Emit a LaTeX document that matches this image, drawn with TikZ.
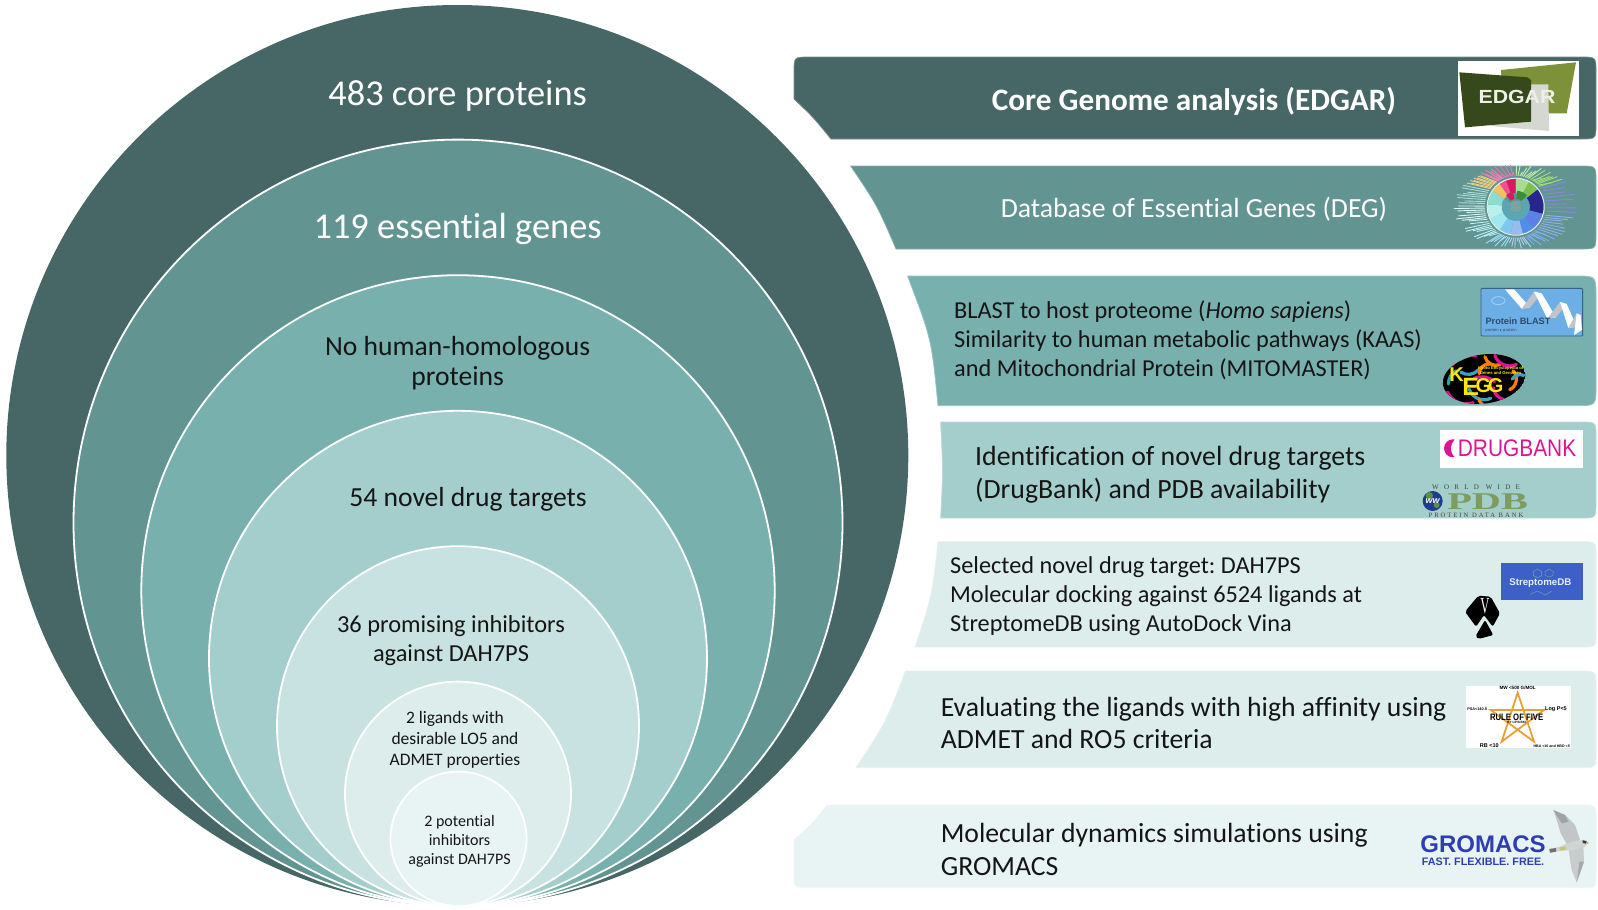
\documentclass[tikz,border=0pt]{standalone}
\usepackage{fontspec}
\usepackage{graphicx}
\setmainfont[Ligatures=NoCommon]{Carlito}
\newfontfamily\arialf{Liberation Sans}
\newfontfamily\serf{Liberation Serif}
\newfontfamily\dvf{DejaVu Sans}
\AtBeginDocument{\frenchspacing}
\definecolor{c1}{HTML}{476766}
\definecolor{c2}{HTML}{629492}
\definecolor{c3}{HTML}{78B0AE}
\definecolor{c4}{HTML}{A4CECC}
\definecolor{c5}{HTML}{C8E2E1}
\definecolor{c6}{HTML}{DCEDEC}
\definecolor{c7}{HTML}{E7F4F3}
\definecolor{inkdark}{HTML}{151515}
\definecolor{pink}{HTML}{DD1493}
\definecolor{gromblue}{HTML}{2E3DAF}
\definecolor{pdbolive}{HTML}{7E9B62}
\tikzset{
  hx/.code={\definecolor{tmpc}{HTML}{#1}\pgfkeysalso{/tikz/color=tmpc}},
  hfill/.code={\definecolor{tmpf}{HTML}{#1}\pgfkeysalso{/tikz/fill=tmpf}},
  hdraw/.code={\definecolor{tmpd}{HTML}{#1}\pgfkeysalso{/tikz/draw=tmpd}},
  htext/.code={\definecolor{tmpt}{HTML}{#1}\pgfkeysalso{/tikz/text=tmpt}},
  ring/.style={draw=white,line width=1.8pt},
  lbl/.style={inner sep=0pt,text=inkdark,align=center},
  ltext/.style={inner sep=0pt,text=inkdark,align=left,anchor=west},
  banner/.style={draw=#1!75!white,line width=.7pt,fill=#1},
  logo/.style 2 args={shift={(#1,#2)},x=.33333pt,y=-.33333pt},
  tiny/.style={inner sep=0pt,text=black,font=\arialf\bfseries\fontsize{#1}{#1}\selectfont},
  kegg/.style={inner sep=0pt,text={yellow!90!orange},font=\arialf\bfseries\fontsize{20}{20}\selectfont},
  squig/.style={line width=3.2pt,line cap=round},
  ray/.style={line width=.9pt}
}
\begin{document}
\begin{tikzpicture}[x=1pt,y=-1pt]
\useasboundingbox (0,0) rectangle (1598,910);
\fill[white] (0,0) rectangle (1598,910);
% concentric circles, all tangent at the bottom
\fill[c1] (457.3,455.5) ellipse[x radius=451,y radius=450.5];
\path[ring,fill=c2] (458,522.8) ellipse[x radius=384.5,y radius=383.2];
\path[ring,fill=c3] (458,590.6) ellipse[x radius=316.7,y radius=315.4];
\path[ring,fill=c4] (458,658.4) ellipse[x radius=249,y radius=247.6];
\path[ring,fill=c5] (458,726.1) ellipse[x radius=181,y radius=179.9];
\path[ring,fill=c6] (458,793.8) ellipse[x radius=113,y radius=112.2];
\path[ring,fill=c7] (458.5,838.8) ellipse[x radius=68,y radius=67.2];
\node[lbl,text=white,font=\fontsize{36.4}{40}\selectfont] (t1) at (457.6,96) {483 core proteins};
\node[lbl,text=white,font=\fontsize{36.4}{40}\selectfont] (t2) at (457.6,229) {119 essential genes};
\node[lbl,font=\fontsize{27.6}{30}\selectfont] (t3) at (457.6,363) {No human-homologous\\proteins};
\node[lbl,font=\fontsize{27.6}{30}\selectfont] (t4) at (468,499) {54 novel drug targets};
\node[lbl,font=\fontsize{24.4}{29}\selectfont] (t5) at (451,640.5) {36 promising inhibitors\\against DAH7PS};
\node[lbl,font=\fontsize{17.5}{21}\selectfont] (t6) at (455,740) {2 ligands with\\desirable LO5 and\\ADMET properties};
\node[lbl,font=\fontsize{16}{19}\selectfont] (t7) at (459.5,841.5) {2 potential\\inhibitors\\against DAH7PS};
% banners
\path[banner=c1] (831,139) .. controls (813,117) .. (794,99) -- (794,72) .. controls (794,57) .. (809,57) -- (1581,57) .. controls (1596,57) .. (1596,72) -- (1596,124) .. controls (1596,139) .. (1581,139) -- cycle;
\path[banner=c2] (896,249) .. controls (877,205) .. (850.6,166) -- (1581,166) .. controls (1596,166) .. (1596,181) -- (1596,234) .. controls (1596,249) .. (1581,249) -- cycle;
\path[banner=c3] (938,405.7) .. controls (931.5,339) .. (907.5,276) -- (1576,276) .. controls (1596,276) .. (1596,296) -- (1596,386) .. controls (1596,405.7) .. (1576,405.7) -- cycle;
\path[banner=c4] (940.6,518) .. controls (943,471) .. (940.6,422) -- (1581,422) .. controls (1596,422) .. (1596,437) -- (1596,503) .. controls (1596,518) .. (1581,518) -- cycle;
\path[banner=c6] (915,647) .. controls (932,596) .. (938,541.7) -- (1581,541.7) .. controls (1596,541.7) .. (1596,557) -- (1596,632) .. controls (1596,647) .. (1581,647) -- cycle;
\path[banner=c6] (856,767.7) .. controls (885.8,722.5) .. (905.5,671) -- (1581,671) .. controls (1596,671) .. (1596,686) -- (1596,753) .. controls (1596,767.7) .. (1581,767.7) -- cycle;
\path[banner=c7] (794,840) .. controls (812,824) .. (827,805) -- (1581,805) .. controls (1596,805) .. (1596,820) -- (1596,873) .. controls (1596,887.7) .. (1581,887.7) -- (809,887.7) .. controls (794,887.7) .. (794,873) -- cycle;
% banner texts
\node[lbl,text=white,font=\bfseries\fontsize{31.2}{34}\selectfont] (b1) at (1194,101.5) {Core Genome analysis (EDGAR)};
\node[lbl,text=white,font=\fontsize{27.7}{32}\selectfont] (b2) at (1194,209) {Database of Essential Genes (DEG)};
\node[ltext,font=\fontsize{24.3}{29}\selectfont] (b3) at (954,340.5) {BLAST to host proteome (\textit{Homo sapiens})\\Similarity to human metabolic pathways (KAAS)\\and Mitochondrial Protein (MITOMASTER)};
\node[ltext,font=\fontsize{27.8}{32.6}\selectfont] (b4) at (975,475) {Identification of novel drug targets\\(DrugBank) and PDB availability};
\node[ltext,font=\fontsize{24.3}{29}\selectfont] (b5) at (950,596) {Selected novel drug target: DAH7PS\\Molecular docking against 6524 ligands at\\StreptomeDB using AutoDock Vina};
\node[ltext,font=\fontsize{27.7}{32.6}\selectfont] (b6) at (940.6,723) {Evaluating the ligands with high affinity using\\ADMET and RO5 criteria};
\node[ltext,font=\fontsize{27.7}{33}\selectfont] (b7) at (940.6,849.5) {Molecular dynamics simulations using\\GROMACS};
% EDGAR logo
\begin{scope}[logo={1420}{50}]
  \fill[white] (113,32) rectangle (477,258);
  \fill[hx=7D9138] (243,60) -- (468,37) -- (440,190) -- (250,190) -- cycle;
  \fill[hx=D5D8D0] (335,103) -- (385,103) -- (387,243) -- (210,228) -- cycle;
  \fill[hx=36491A] (118,67) -- (322,82) -- (333,90) -- (333,215) -- (135,232) -- cycle;
  \node[inner sep=0pt,htext=EEF0E8,font=\arialf\bfseries\fontsize{19}{19}\selectfont] (edgarlogo) at (291,140) {\scalebox{1.12}[1]{EDGAR}};
\end{scope}
% DEG logo
\begin{scope}[shift={(1515.7,206.7)}]
  \foreach \a/\b/\c/\d in {-90/-62/A8DC90/C4F0A8,-62/-38/7FBF4F/A0E070,-38/15/26268C/8888DD,15/50/5C7FE8/90B0F0,50/75/4F8FE8/80B0F0,75/100/9ABBEE/B0D0F0,100/125/7DC8F0/A0E0F8,125/155/9FE8F0/B8F4F4,155/185/B8F0EA/D8F8F4,185/215/8CDCCF/A8E0D8,215/235/F5C060/F0D080,235/250/F05090/F080B0,250/270/D81860/E878B0}{
    \definecolor{sect}{HTML}{\c}\definecolor{rays}{HTML}{\d}
    \foreach \t in {.03,.15,.27,.39,.51,.63,.75,.87}{
      \pgfmathsetmacro\ang{\a+\t*(\b-\a)}
      \pgfmathsetmacro\fac{.8+.2*abs(sin(\ang*37))}
      \draw[ray,rays] ({31*cos(\ang)},{31*sin(\ang)}) -- ({62*\fac*cos(\ang)},{42*\fac*sin(\ang)});
    }
    \fill[sect] (\a:14) arc[start angle=\a,end angle=\b,radius=14] -- (\b:28) arc[start angle=\b,end angle=\a,radius=28] -- cycle;
  }
  \draw[white!85!c2,line width=1pt] (0,0) circle[radius=28.5];
  \fill[hx=5BA6B4] (-65:6.5) arc[start angle=-65,end angle=215,radius=6.5] -- (215:14) arc[start angle=215,end angle=-65,radius=14] -- cycle;
  \fill[hx=3F8A3C] (-85:8) arc[start angle=-85,end angle=-45,radius=8] -- (-45:16) arc[start angle=-45,end angle=-85,radius=16] -- cycle;
  \fill[hx=D81860] (-130:8) arc[start angle=-130,end angle=-100,radius=8] -- (-100:15) arc[start angle=-100,end angle=-130,radius=15] -- cycle;
  \fill[c2!85!white] (0,0) circle[radius=6];
\end{scope}
% Protein BLAST logo
\begin{scope}[logo={1430}{280}]
  \path[hfill=6CAEE6,hdraw=3B5F7F,line width=.9pt,rounded corners=1pt] (153,25) rectangle (458,168);
  \draw[hx=9CCBF0,line width=1pt] (205,62) ellipse[x radius=20,y radius=12];
  \fill[white] (225,28) -- (252,28) -- (300,82) -- (275,86) -- cycle;
  \fill[hx=C0C4C8] (275,86) -- (300,82) -- (335,40) -- (312,35) -- cycle;
  \fill[white] (312,35) -- (335,40) -- (378,112) -- (352,116) -- cycle;
  \fill[hx=C0C4C8] (352,116) -- (378,112) -- (410,72) -- (390,66) -- cycle;
  \fill[white] (390,66) -- (410,72) -- (440,140) -- (415,144) -- cycle;
  \fill[hx=C0C4C8] (415,144) -- (440,140) -- (452,105) -- (440,100) -- cycle;
  \fill[white] (440,100) -- (452,105) -- (456,150) -- (432,165) -- cycle;
  \node[inner sep=0pt,htext=2E4A6B,font=\arialf\bfseries\fontsize{9.2}{10}\selectfont] (blastt) at (264,125) {Protein BLAST};
  \node[inner sep=0pt,htext=2E4A6B,font=\dvf\fontsize{3.8}{5}\selectfont] (blasts) at (213,150) {protein ▸ protein};
\end{scope}
% KEGG logo
\begin{scope}[shift={(1484,379)},rotate=8]
  \begin{scope}
    \clip (0,0) ellipse[x radius=41.5,y radius=24.5];
    \fill[black] (0,0) ellipse[x radius=41.5,y radius=24.5];
    \draw[squig,pink] (-30,-18) to[bend left=30] (-5,-24);
    \draw[squig,orange] (4,-22) to[bend right=50] (18,-12);
    \draw[squig,hx=3FA0C0] (-22,-10) to[bend right=40] (-4,-10);
    \draw[squig,pink] (14,-22) to[bend right=50] (34,-10);
    \draw[squig,hx=2AA3A3] (-36,0) to[bend left=30] (-26,-12);
    \draw[squig,orange] (24,14) to[bend right=60] (30,-4);
    \draw[squig,pink] (-38,8) to[bend right=40] (-14,22);
    \draw[squig,hx=3FA0C0] (-16,8) to[bend right=50] (4,20);
    \draw[squig,orange] (-8,20) to[bend right=40] (4,28);
    \draw[squig,pink] (8,10) to[bend right=50] (24,24);
    \draw[squig,hx=3FA0C0] (28,4) to[bend left=40] (40,2);
    \draw[squig,orange] (-4,-6) to[bend left=50] (8,-14);
    \draw[squig,pink] (-10,-2) to[bend left=30] (10,4);
  \end{scope}
\end{scope}
\begin{scope}[logo={1430}{280}]
  \node[kegg] (keggk) at (80,284) {K};
  \node[kegg,font=\arialf\bfseries\fontsize{25}{25}\selectfont] (kegge) at (122,320) {E};
  \node[kegg] (keggg1) at (160,318) {G};
  \node[kegg] (keggg2) at (197,316) {G};
  \node[inner sep=0pt,text={yellow!90!orange},align=center,font=\arialf\bfseries\fontsize{4.2}{5.6}\selectfont] (keggs) at (212,271) {Kyoto Encyclopedia of\\Genes and Genomes};
\end{scope}
% DrugBank logo
\begin{scope}[logo={1420}{425}]
  \fill[white] (60,15) rectangle (490,128);
  \fill[pink] (99,70) circle[radius=27];
  \path[fill=white] (108,40) .. controls (88,60) and (88,82) .. (108,100) -- (130,100) -- (130,40) -- cycle;
  \node[inner sep=0pt,anchor=west,text=pink,font=\arialf\fontsize{24}{24}\selectfont] (dbank) at (113,70) {\scalebox{.87}[1]{DRUGBANK}};
  % PDB
  \node[inner sep=0pt,htext=444433,font=\serf\fontsize{7}{7}\addfontfeature{LetterSpace=75}\selectfont] (pdb1) at (168,187) {WORLD WIDE};
  \node[inner sep=0pt,text=pdbolive,font=\serf\bfseries\fontsize{24}{24}\selectfont] (pdb2) at (203,231) {\scalebox{1.68}[1]{PDB}};
  \fill[hx=1F3B8C] (38,228) circle[radius=30];
  \fill[hx=5E8F4A] (28,212) circle[radius=11];
  \fill[hx=5E8F4A] (50,240) circle[radius=9];
  \node[inner sep=0pt,text=white,font=\arialf\bfseries\itshape\fontsize{9}{9}\selectfont] (pdbw) at (38,229) {ww};
  \node[inner sep=0pt,htext=444433,font=\serf\fontsize{6.6}{7}\addfontfeature{LetterSpace=30}\selectfont] (pdb3) at (168,272) {PROTEIN DATA BANK};
\end{scope}
% StreptomeDB logo
\begin{scope}[logo={1450}{555}]
  \fill[hx=3C5FC8] (153,23) rectangle (400,135);
  \draw[hx=6E9FB0,line width=.5pt] (250,50) -- (262,42) -- (275,50) -- (275,62) -- (262,68) -- (250,62) -- cycle;
  \draw[hx=6E9FB0,line width=.5pt] (285,50) -- (298,42) -- (310,50) -- (308,62) -- (296,66) -- (285,60) -- cycle;
  \draw[hx=6E9FB0,line width=.5pt] (240,118) -- (262,108) -- (285,120) -- (305,108);
  \node[inner sep=0pt,htext=E8F0FA,font=\arialf\bfseries\fontsize{9.7}{12}\selectfont] (stream) at (271,83) {StreptomeDB};
  % AutoDock mark
  \path[fill=black,rounded corners=2pt] (85,122) -- (122,125) -- (150,175) -- (128,215) -- (102,180) -- (78,215) -- (45,170) -- cycle;
  \path[fill=black,rounded corners=2pt] (105,195) -- (130,240) -- (85,252) -- (76,245) -- cycle;
  \node[inner sep=0pt,text=white,font=\serf\fontsize{23}{23}\selectfont] (adockv) at (105,152) {\scalebox{.55}[1]{V}};
\end{scope}
% Rule of five logo
\begin{scope}[logo={1420}{670}]
  \fill[white] (137,48) rectangle (453,233);
  \draw[hx=E8A035,line width=1.8pt,line join=miter] (293,68) -- (342,215) -- (212,120) -- (372,120) -- (245,215) -- cycle;
  \node[tiny=9.3] (rof) at (290,142) {\scalebox{.83}[1]{RULE OF FIVE}};
  \node[tiny=3.2] (rofs) at (290,157) {BY LIPINSKI};
  \node[tiny=4.6] (rofa) at (293,55) {MW <500 G/MOL};
  \node[tiny=3.8] (rofb) at (172,117) {PSA<140 Å};
  \node[tiny=5.5] (rofc) at (408,118) {Log P<5};
  \node[tiny=5.5] (rofd) at (208,227) {RB <10};
  \node[tiny=3.6] (rofe) at (395,228) {HBA <10 and HBD <5};
\end{scope}
% GROMACS logo
\node[inner sep=0pt,text=gromblue,font=\arialf\bfseries\fontsize{24}{24}\selectfont] (grom) at (1483,844) {GROMACS};
\node[inner sep=0pt,text=gromblue,font=\arialf\bfseries\fontsize{10.8}{11}\selectfont] (gromf) at (1483,861.5) {FAST. FLEXIBLE. FREE.};
\begin{scope}[logo={1540}{805}]
  \fill[hx=C2C6C6] (40,15) -- (75,30) -- (105,60) -- (120,105) -- (85,125) -- (62,85) -- (50,45) -- cycle;
  \fill[hx=9EA3A3] (40,15) -- (75,30) -- (85,50) -- (65,55) -- cycle;
  \fill[hx=C8CCCC] (85,130) -- (130,125) -- (132,170) -- (110,232) -- (95,195) -- cycle;
  \fill[hx=A5AAAA] (110,232) -- (132,170) -- (118,170) -- cycle;
  \fill[hx=D0D4D2] (28,132) -- (60,125) -- (100,108) -- (130,105) -- (145,113) -- (135,125) -- (100,135) -- (60,138) -- (30,143) -- cycle;
  \fill[hx=6E7070] (28,132) -- (48,129) -- (48,140) -- (30,143) -- cycle;
  \fill[hx=C9C27A] (58,128) -- (75,124) -- (80,132) -- (62,137) -- cycle;
  \fill[hx=3A3A3A] (128,106) -- (140,108) -- (138,116) -- (128,114) -- cycle;
  \fill[hx=D8B040] (140,110) -- (147,114) -- (140,117) -- cycle;
\end{scope}
\end{tikzpicture}
\end{document}
